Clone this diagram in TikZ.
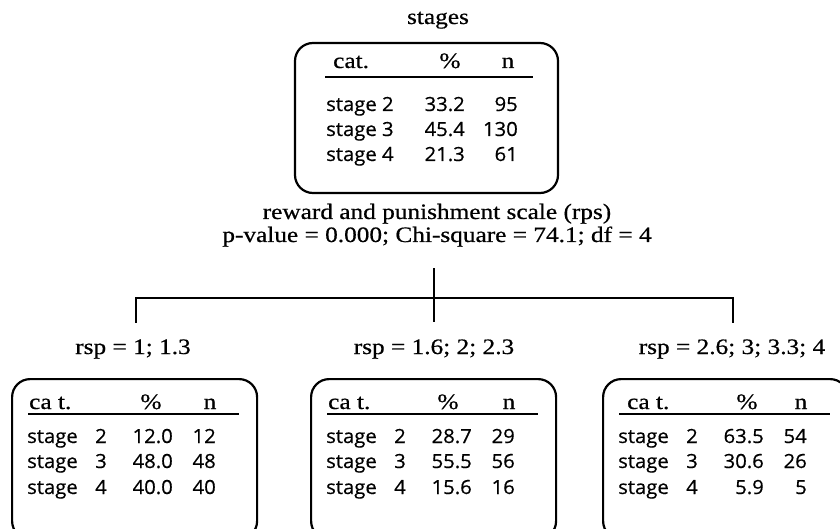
\documentclass[tikz,border=0pt]{standalone}
\usepackage{fontspec}
\setmainfont[FakeStretch=1.15,FakeBold=0.6]{Liberation Serif}
\newfontfamily\bodyfont[FakeStretch=1.04,FakeBold=0.5]{Open Sans}
\begin{document}
\begin{tikzpicture}[x=1pt,y=-1pt,
  txt/.style={inner sep=0pt,font=\fontsize{22}{26}\selectfont},
  btxt/.style={inner sep=0pt,font=\bodyfont\fontsize{19.5}{23}\selectfont},
  lt/.style={txt,anchor=base west},
  ct/.style={txt,anchor=base},
  blt/.style={btxt,anchor=base west},
  brt/.style={btxt,anchor=base east},
  bct/.style={btxt,anchor=base},
  box/.style={draw,line width=2.2pt,rounded corners=18pt,inner sep=0pt},
  rulel/.style={line width=1.6pt},
  conn/.style={line width=2pt}]
\useasboundingbox (0,0) rectangle (840,529);
\clip (0,0) rectangle (840,529);
% top node
\node[ct] (stages) at (438,24) {stages};
\node[box,minimum width=263pt,minimum height=150pt] (topbox) at (426.5,118) {};
\node[lt] (tcat) at (333,68) {cat.};
\node[ct] (tpct) at (450,68) {\%};
\node[ct] (tn) at (508,68) {n};
\coordinate (tr1) at (325,77);
\coordinate (tr2) at (533,77);
\draw[rulel] (tr1) -- (tr2);
\node[blt] (ts2) at (326,111) {stage 2};
\node[brt] (tp2) at (465,111) {33.2};
\node[brt] (tn2) at (518,111) {95};
\node[blt] (ts3) at (326,136) {stage 3};
\node[brt] (tp3) at (465,136) {45.4};
\node[brt] (tn3) at (518,136) {130};
\node[blt] (ts4) at (326,161) {stage 4};
\node[brt] (tp4) at (465,161) {21.3};
\node[brt] (tn4) at (518,161) {61};
% split label
\node[ct] (var) at (437,219) {reward and punishment scale (rps)};
\node[ct] (pval) at (437,242) {p-value = 0.000; Chi-square = 74.1; df = 4};
% connectors
\coordinate (j0) at (434,268);
\coordinate (jm) at (434,298);
\coordinate (jl) at (136,298);
\coordinate (jr) at (733,298);
\coordinate (dl) at (136,322);
\coordinate (dm) at (434,322);
\coordinate (dr) at (733,322);
\draw[conn] (j0) -- (jm);
\draw[conn,line cap=rect] (dl) -- (jl) -- (jr) -- (dr);
\draw[conn] (jm) -- (dm);
% child labels
\node[ct] (l1) at (133,354) {rsp = 1; 1.3};
\node[ct] (l2) at (434,354) {rsp = 1.6; 2; 2.3};
\node[ct] (l3) at (732,354) {rsp = 2.6; 3; 3.3; 4};
% child boxes
\foreach \L/\id/\hc/\hp/\pa/\pb/\pc/\na/\nb/\nc in
  {11/a/18/140/12.0/48.0/40.0/12/48/40,
   310/b/18/138/28.7/55.5/15.6/29/56/16,
   602/c/25/145/63.5/30.6/5.9/54/26/5}{
  \node[box,minimum width=245pt,minimum height=160pt,anchor=north west] (box\id) at (\L,378) {};
  \node[lt] (hc\id) at (\L+\hc,409) {ca t.};
  \node[ct] (hp\id) at (\L+\hp,409) {\%};
  \node[ct] (hn\id) at (\L+199,409) {n};
  \coordinate (ra\id) at (\L+17,414);
  \coordinate (rb\id) at (\L+228,414);
  \draw[rulel] (ra\id) -- (rb\id);
  \node[blt] (s2\id) at (\L+16,443) {stage};
  \node[bct] (d2\id) at (\L+90,443) {2};
  \node[brt] (p2\id) at (\L+162,443) {\pa};
  \node[brt] (n2\id) at (\L+205,443) {\na};
  \node[blt] (s3\id) at (\L+16,468) {stage};
  \node[bct] (d3\id) at (\L+90,468) {3};
  \node[brt] (p3\id) at (\L+162,468) {\pb};
  \node[brt] (n3\id) at (\L+205,468) {\nb};
  \node[blt] (s4\id) at (\L+16,494) {stage};
  \node[bct] (d4\id) at (\L+90,494) {4};
  \node[brt] (p4\id) at (\L+162,494) {\pc};
  \node[brt] (n4\id) at (\L+205,494) {\nc};
}
\end{tikzpicture}
\end{document}
